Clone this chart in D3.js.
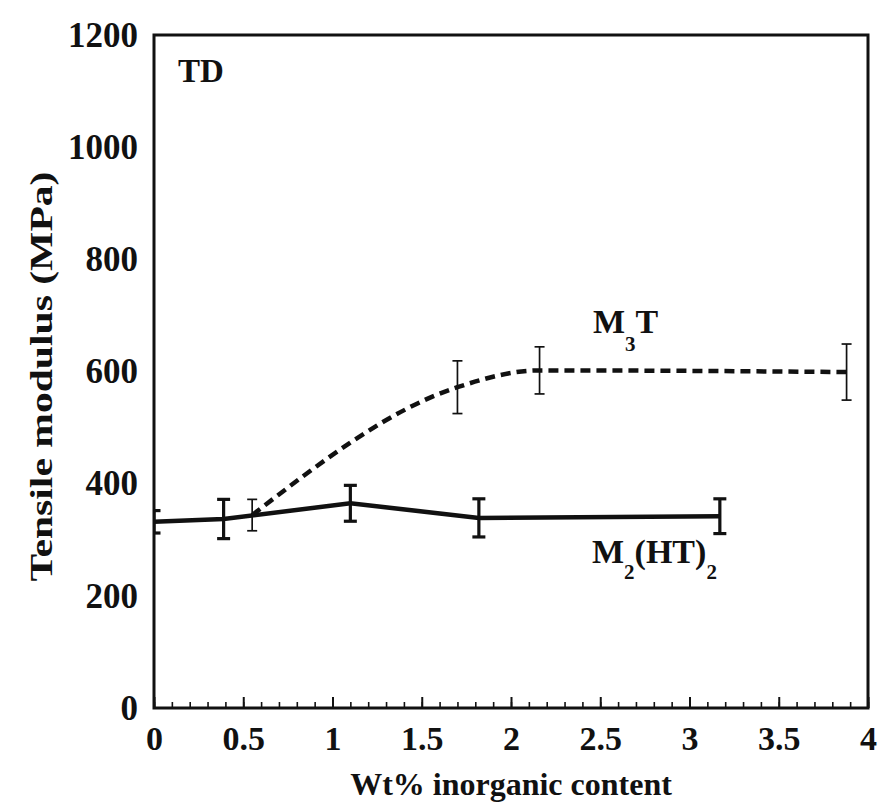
<!DOCTYPE html>
<html lang="en">
<head>
    <meta charset="utf-8">
    <title>Tensile modulus TD</title>
    <script src="https://d3js.org/d3.v7.min.js"></script>
    <style>
        body { margin: 0; background: #fff; }
        text { font-family: "Liberation Serif", "Times New Roman", serif; font-weight: bold; fill: #111; }
    </style>
</head>
<body onload="main()">
    <svg width="880" height="804" id="svg1"></svg>
    <script>
        // M2(HT)2 series (solid line, heavy error bars)
        var m2Wt = [0, 0.39, 1.10, 1.82, 3.17];
        var m2Mod = [332, 337, 365, 339, 342];
        var m2Err = [20, 35, 32, 34, 31];

        // M3T series (dashed line, thin error bars)
        var m3Wt = [0.55, 1.70, 2.16, 3.88];
        var m3Mod = [344, 572, 602, 599];
        var m3Err = [28, 47, 42, 50];

        var xTicks = [0, 0.5, 1, 1.5, 2, 2.5, 3, 3.5, 4];
        var yTicks = [0, 200, 400, 600, 800, 1000, 1200];

        function main() {
            var svg1 = d3.select("#svg1"),
                margin = { top: 35, right: 12, bottom: 96, left: 154 },
                width = svg1.attr("width") - margin.left - margin.right,
                height = svg1.attr("height") - margin.top - margin.bottom;

            var xScale = d3.scaleLinear().domain([0, 4]).range([0, width]),
                yScale = d3.scaleLinear().domain([0, 1200]).range([height, 0]);

            var g = svg1.append("g")
                .attr("transform", "translate(" + margin.left + "," + margin.top + ")");

            svg1.append("defs").append("clipPath").attr("id", "plot")
                .append("rect").attr("width", width).attr("height", height);

            var m2 = m2Wt.map(function (d, i) { return { x: d, y: m2Mod[i], e: m2Err[i] }; });
            var m3 = m3Wt.map(function (d, i) { return { x: d, y: m3Mod[i], e: m3Err[i] }; });

            // minor + major ticks pointing inward on the bottom axis
            g.append("g")
                .attr("transform", "translate(0," + height + ")")
                .call(d3.axisBottom(xScale).ticks(40).tickSizeInner(-6).tickSizeOuter(0).tickFormat(""))
                .call(function (a) { a.select(".domain").remove(); })
                .selectAll("line").attr("stroke", "#111").attr("stroke-width", 1.6);
            g.append("g")
                .attr("transform", "translate(0," + height + ")")
                .call(d3.axisBottom(xScale).tickValues(xTicks).tickSizeInner(-11).tickSizeOuter(0).tickPadding(18)
                    .tickFormat(function (d) { return d; }))
                .call(function (a) {
                    a.select(".domain").remove();
                    a.selectAll("line").attr("stroke", "#111").attr("stroke-width", 2);
                    a.selectAll("text").attr("font-size", "34px").attr("fill", "#111")
                        .attr("font-family", "Liberation Serif").attr("font-weight", "bold");
                });

            g.append("g")
                .call(d3.axisLeft(yScale).tickValues(yTicks).tickSize(0).tickPadding(16).tickFormat(d3.format("d")))
                .call(function (a) {
                    a.select(".domain").remove();
                    a.selectAll("text").attr("font-size", "35px").attr("fill", "#111")
                        .attr("font-family", "Liberation Serif").attr("font-weight", "bold");
                });

            // frame
            g.append("rect")
                .attr("width", width).attr("height", height)
                .attr("fill", "none").attr("stroke", "#111").attr("stroke-width", 3);

            var plot = g.append("g").attr("clip-path", "url(#plot)");

            plot.append("path")
                .datum(m2)
                .attr("fill", "none")
                .attr("stroke", "#111")
                .attr("stroke-width", 4.5)
                .attr("d", d3.line()
                    .x(function (d) { return xScale(d.x); })
                    .y(function (d) { return yScale(d.y); }));

            plot.append("path")
                .datum(m3)
                .attr("fill", "none")
                .attr("stroke", "#111")
                .attr("stroke-width", 4.5)
                .attr("stroke-dasharray", "10,6")
                .attr("d", d3.line()
                    .curve(d3.curveMonotoneX)
                    .x(function (d) { return xScale(d.x); })
                    .y(function (d) { return yScale(d.y); }));

            function errorBars(data, w, cap) {
                var eb = plot.append("g").selectAll("g").data(data).enter().append("g")
                    .attr("stroke", "#111").attr("stroke-width", w);
                eb.append("line")
                    .attr("x1", function (d) { return xScale(d.x); })
                    .attr("x2", function (d) { return xScale(d.x); })
                    .attr("y1", function (d) { return yScale(d.y - d.e); })
                    .attr("y2", function (d) { return yScale(d.y + d.e); });
                [-1, 1].forEach(function (s) {
                    eb.append("line")
                        .attr("x1", function (d) { return xScale(d.x) - cap; })
                        .attr("x2", function (d) { return xScale(d.x) + cap; })
                        .attr("y1", function (d) { return yScale(d.y + s * d.e); })
                        .attr("y2", function (d) { return yScale(d.y + s * d.e); });
                });
            }
            errorBars(m2, 3.2, 6.5);
            errorBars(m3, 1.7, 5);

            // labels
            g.append("text").attr("x", 24).attr("y", 47).attr("font-size", "33px").text("TD");

            var l1 = g.append("text").attr("x", 439).attr("y", 298).attr("font-size", "34px");
            l1.append("tspan").text("M");
            l1.append("tspan").attr("font-size", "21px").attr("dy", 18).text("3");
            l1.append("tspan").attr("dy", -18).text("T");

            var l2 = g.append("text").attr("x", 438).attr("y", 528).attr("font-size", "34px");
            l2.append("tspan").text("M");
            l2.append("tspan").attr("font-size", "21px").attr("dy", 16).text("2");
            l2.append("tspan").attr("dy", -16).text("(HT)");
            l2.append("tspan").attr("font-size", "21px").attr("dy", 16).text("2");

            svg1.append("text")
                .attr("x", margin.left + width / 2)
                .attr("y", 795)
                .attr("text-anchor", "middle")
                .attr("font-size", "32px")
                .text("Wt% inorganic content");

            svg1.append("text")
                .attr("transform", "translate(52," + (margin.top + height / 2 + 5) + ") rotate(-90) scale(1.3,1)")
                .attr("text-anchor", "middle")
                .attr("font-size", "32px")
                .text("Tensile modulus (MPa)");
        }
    </script>
</body>
</html>
